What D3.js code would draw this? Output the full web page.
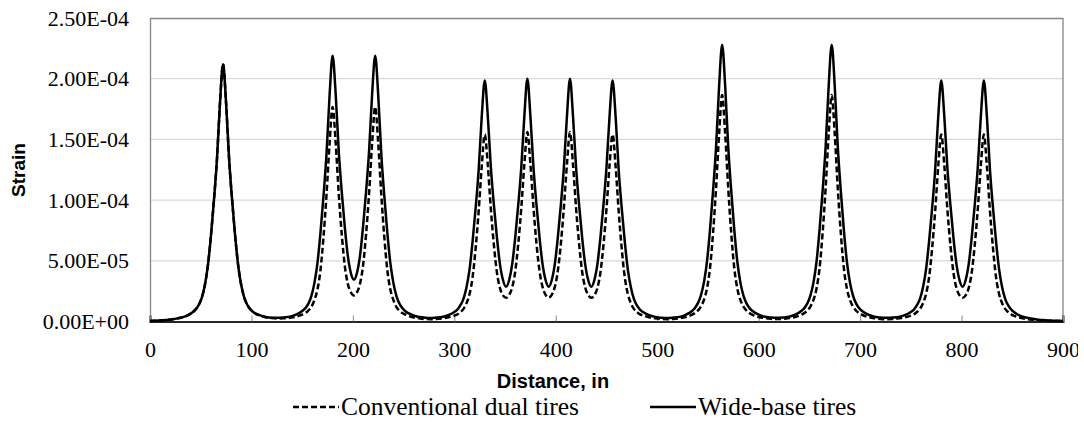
<!DOCTYPE html>
<html>
<head>
<meta charset="utf-8">
<script src="https://cdn.jsdelivr.net/npm/d3@7"></script>
<style>
  body { margin: 0; background: #fff; }
  svg { display: block; }
</style>
</head>
<body>
<svg id="chart" width="1084" height="433"></svg>
<script>
(function () {
    // distance along the pavement, in
    const distance = [
        0, 12, 24, 36, 42, 45, 48, 51, 54, 57, 60, 63, 66, 69, 72, 75, 78, 81, 84, 87, 90, 93, 96, 99, 102,
        108, 114, 120, 126, 132, 138, 144, 150, 153, 156, 159,
        162, 165, 168, 171, 174, 177, 180, 183, 186, 189, 192, 195, 198, 201, 204, 207, 210, 213, 216, 219,
        222, 225, 228, 231, 234, 237, 240, 243, 246, 249, 252,
        258, 264, 270, 276, 282, 288, 294, 300, 303, 306, 309,
        312, 315, 318, 321, 324, 327, 330, 333, 336, 339, 342, 345, 348, 351, 354, 357, 360, 363, 366, 369,
        372, 375, 378, 381, 384, 387, 390, 393, 396, 399, 402, 405, 408, 411,
        414, 417, 420, 423, 426, 429, 432, 435, 438, 441, 444, 447, 450, 453,
        456, 459, 462, 465, 468, 471, 474, 477, 480, 483, 486,
        492, 498, 504, 510, 516, 522, 528, 534, 537, 540, 543,
        546, 549, 552, 555, 558, 561, 564, 567, 570, 573, 576, 579, 582, 585, 588, 591, 594,
        600, 606, 612, 618, 624, 630, 636, 642, 645, 648, 651,
        654, 657, 660, 663, 666, 669, 672, 675, 678, 681, 684, 687, 690, 693, 696, 699, 702,
        708, 714, 720, 726, 732, 738, 744, 750, 753, 756, 759,
        762, 765, 768, 771, 774, 777, 780, 783, 786, 789, 792, 795, 798, 801, 804, 807, 810, 813, 816, 819,
        822, 825, 828, 831, 834, 837, 840, 843, 846, 849, 852,
        858, 864, 870, 876, 882, 888, 894, 900
    ];

    // strain, in microstrain (x 1e-6)
    const conventional = [
        0.5, 1.0, 2.1, 4.7, 7.6, 10, 13.6, 19.5, 29.7, 45.6, 70, 99.6, 133.6, 180, 212, 180, 133.6, 99.6, 70, 45.6, 29.7, 19.5, 13.6, 10, 7.6,
        5.1, 3.5, 2.8, 2.5, 2.6, 3.0, 3.9, 5.7, 6.8, 9.0, 11.9,
        17.5, 26.1, 42, 69.3, 104.4, 146.6, 176.7, 147.5, 106, 72, 46, 31, 24, 21.5, 24, 31, 46, 72, 106, 147.5,
        176.7, 146.6, 104.4, 69.3, 42, 26.1, 17.5, 11.9, 8.7, 6.8, 5.6,
        3.7, 2.8, 2.1, 1.9, 2.0, 2.5, 3.4, 4.9, 5.9, 7.8, 10.4,
        15.1, 22.7, 36.5, 60.3, 91, 127.7, 154, 128.7, 92.7, 63, 40.3, 27.5, 21.5, 19.5, 21.8, 28, 41, 63.8, 93.5, 129.3,
        156, 129.5, 94, 64, 41.5, 28.3, 22, 19.8, 22, 28.3, 41.5, 64, 94, 129.5,
        156, 129.3, 93.5, 63.8, 41, 28, 21.8, 19.5, 21.5, 27.5, 40.3, 63, 92.7, 128.7,
        154, 127.7, 91, 60.3, 36.5, 22.7, 15.1, 10.4, 7.8, 5.9, 5.0,
        3.4, 2.6, 2.1, 1.9, 2.1, 2.7, 3.6, 5.5, 6.9, 8.9, 12.3,
        17.7, 27, 43.7, 72.5, 109.7, 154.4, 186.5, 154.4, 109.7, 72.5, 43.7, 27, 17.7, 12.3, 9.0, 6.9, 5.5,
        3.7, 2.8, 2.2, 2.0, 2.2, 2.8, 3.7, 5.5, 6.9, 9.0, 12.3,
        17.7, 27, 43.7, 72.5, 109.7, 154.4, 186.5, 154.4, 109.7, 72.5, 43.7, 27, 17.7, 12.3, 8.9, 6.9, 5.5,
        3.7, 2.7, 2.1, 1.9, 2.0, 2.6, 3.4, 4.9, 5.9, 7.8, 10.4,
        15.0, 22.7, 36.5, 60.3, 91, 127.7, 154, 128.5, 92.5, 63, 40.3, 27.5, 21.5, 19.5, 21.5, 27.5, 40.3, 63, 92.5, 128.5,
        154, 127.7, 91, 60.3, 36.5, 22.7, 15.0, 10.4, 7.6, 5.8, 4.6,
        3.0, 2.0, 1.4, 1.0, 0.7, 0.5, 0.4, 0.3
    ];

    const wideBase = [
        0.5, 1.0, 2.1, 4.7, 7.6, 10, 13.6, 19.5, 29.7, 45.6, 70, 99.6, 133.6, 180, 212, 180, 133.6, 99.6, 70, 45.6, 29.7, 19.5, 13.6, 10, 7.6,
        5.2, 3.7, 3.1, 3.0, 3.4, 4.0, 5.6, 8.7, 10.8, 14.5, 20.7,
        31.4, 47.6, 72.7, 103, 138, 186, 219, 188, 141, 107, 78, 54, 40, 34.5, 40, 54, 78, 107, 141, 188,
        219, 186, 138, 103, 72.7, 47.6, 31.4, 20.7, 14.5, 10.8, 8.3,
        5.6, 3.9, 3.3, 2.9, 3.2, 3.7, 5.2, 7.9, 9.8, 13.4, 18.7,
        28.3, 43, 66, 93.5, 125, 168.5, 198.5, 169, 127, 96, 69, 47, 34, 28.7, 34, 47, 69, 96, 127, 169,
        200, 169, 127, 96, 69, 47, 34, 28.7, 34, 47, 69, 96, 127, 169,
        200, 169, 127, 96, 69, 47, 34, 28.7, 34, 47, 69, 96, 127, 169,
        198.5, 168.5, 125, 93.5, 66, 43, 28.3, 18.7, 13.2, 9.8, 7.8,
        5.2, 3.8, 3.1, 2.8, 3.2, 3.8, 5.5, 8.4, 11.0, 14.9, 21.3,
        32, 49, 75.2, 107.2, 143.6, 193.8, 228, 193.8, 143.6, 107.2, 75.2, 49, 32, 21.3, 14.9, 11.0, 8.6,
        5.6, 3.9, 3.3, 3.0, 3.3, 3.9, 5.6, 8.6, 11.0, 14.9, 21.3,
        32, 49, 75.2, 107.2, 143.6, 193.8, 228, 193.8, 143.6, 107.2, 75.2, 49, 32, 21.3, 14.9, 11.0, 8.6,
        5.6, 3.9, 3.3, 3.0, 3.2, 3.7, 5.2, 7.9, 9.8, 13.4, 18.7,
        28.3, 43, 66, 93.5, 125, 168.5, 198.5, 169, 127, 96, 69, 47, 34, 28.7, 34, 47, 69, 96, 127, 169,
        198.5, 168.5, 125, 93.5, 66, 43, 28.3, 18.7, 13.2, 9.8, 7.6,
        4.7, 3.2, 2.3, 1.5, 1.1, 0.8, 0.6, 0.5
    ];

    const xTicks = [0, 100, 200, 300, 400, 500, 600, 700, 800, 900];
    const yTicks = [0, 5e-5, 1e-4, 1.5e-4, 2e-4, 2.5e-4];
    const seriesNames = ["Conventional dual tires", "Wide-base tires"];

    const MICRO = 1e-6;
    const left = 150, top = 18, right = 1063, bottom = 321.5;
    const width = right - left, height = bottom - top;

    const SERIF = '"Liberation Serif"';
    const SANS = '"Liberation Sans"';

    const svg = d3.select("#chart");

    // the original picture is cut off just right of the last x label
    svg.append("clipPath").attr("id", "crop")
        .append("rect").attr("width", 1078).attr("height", 433);
    const root = svg.append("g").attr("clip-path", "url(#crop)");

    const x = d3.scaleLinear().domain([0, 900]).range([0, width]);
    const y = d3.scaleLinear().domain([0, 2.5e-4]).range([height, 0]);

    // excel style 0.00E+00 labels
    const sci = (v) => {
        if (v === 0) return "0.00E+00";
        const e = Math.floor(Math.log10(v));
        const m = v / Math.pow(10, e);
        return m.toFixed(2) + "E" + (e < 0 ? "-" : "+") + String(Math.abs(e)).padStart(2, "0");
    };

    const chart = root.append("g").attr("transform", `translate(${left},${top})`);

    // gridlines
    chart.append("g")
        .selectAll("line")
        .data(yTicks.slice(1, -1))
        .join("line")
        .attr("x1", 0).attr("x2", width)
        .attr("y1", d => y(d)).attr("y2", d => y(d))
        .attr("stroke", "#d9d9d9").attr("stroke-width", 1.3);

    // plot frame (top / right)
    chart.append("path")
        .attr("d", `M0,0.5H${width}V${height}`)
        .attr("fill", "none").attr("stroke", "#868686").attr("stroke-width", 1.3);

    // y axis
    const yAxis = chart.append("g")
        .call(d3.axisLeft(y).tickValues(yTicks).tickSize(0).tickPadding(21).tickFormat(sci));
    yAxis.select(".domain").attr("stroke", "#868686").attr("stroke-width", 1.3);
    yAxis.selectAll("text")
        .style("font-family", SERIF).style("font-size", "22px").attr("fill", "#000");

    // x axis, ticks pointing inward
    const xAxis = chart.append("g")
        .attr("transform", `translate(0,${height})`)
        .call(d3.axisBottom(x).tickValues(xTicks).tickSize(-6).tickPadding(20).tickFormat(d3.format("d")));
    xAxis.select(".domain").attr("stroke", "#262626").attr("stroke-width", 2);
    xAxis.selectAll(".tick line").attr("stroke", "#868686");
    xAxis.selectAll("text")
        .style("font-family", SERIF).style("font-size", "22px").attr("fill", "#000");

    const line = (vals) => d3.line()
        .x((d, i) => x(distance[i]))
        .y((d) => y(d * MICRO))
        .curve(d3.curveMonotoneX)(vals);

    chart.append("path")
        .attr("d", line(conventional))
        .attr("fill", "none").attr("stroke", "#000").attr("stroke-width", 2.5)
        .attr("stroke-dasharray", "6,3");

    chart.append("path")
        .attr("d", line(wideBase))
        .attr("fill", "none").attr("stroke", "#000").attr("stroke-width", 2.5);

    // axis titles
    root.append("text")
        .attr("x", 553).attr("y", 388)
        .attr("text-anchor", "middle")
        .style("font-family", SANS).style("font-weight", "bold").style("font-size", "20px")
        .text("Distance, in");

    root.append("text")
        .attr("transform", "translate(25,170) rotate(-90)")
        .attr("text-anchor", "middle")
        .style("font-family", SANS).style("font-weight", "bold").style("font-size", "19px")
        .text("Strain");

    // legend
    const legend = root.append("g");
    const legendItems = [
        { name: seriesNames[0], x0: 293, dash: "6,3" },
        { name: seriesNames[1], x0: 650, dash: null }
    ];
    legendItems.forEach((it) => {
        legend.append("line")
            .attr("x1", it.x0).attr("x2", it.x0 + 46)
            .attr("y1", 407).attr("y2", 407)
            .attr("stroke", "#000").attr("stroke-width", 2.5)
            .attr("stroke-dasharray", it.dash);
        legend.append("text")
            .attr("x", it.x0 + 48).attr("y", 415)
            .style("font-family", SERIF).style("font-size", "25.5px")
            .text(it.name);
    });
})();
</script>
</body>
</html>
